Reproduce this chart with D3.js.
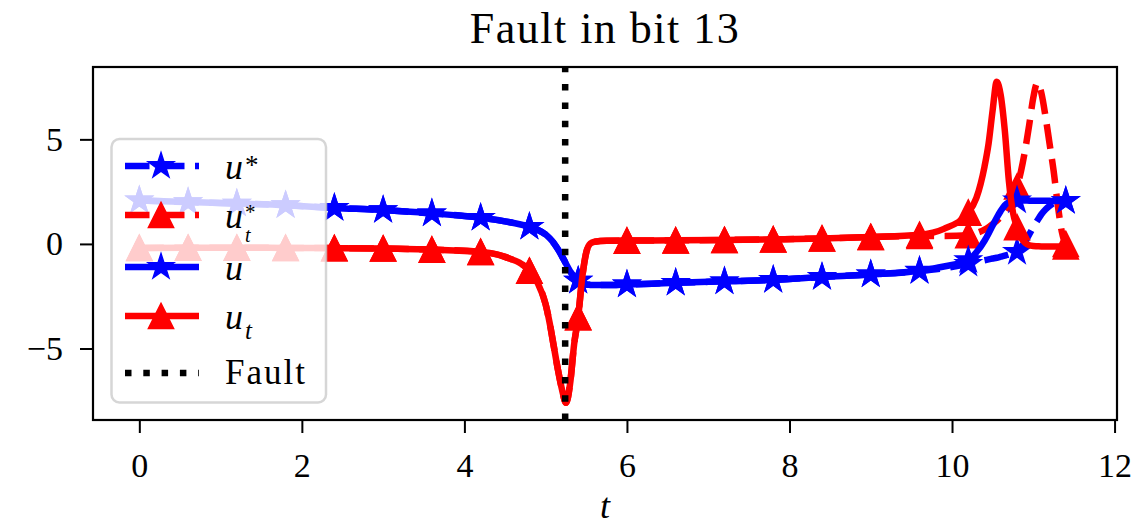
<!DOCTYPE html>
<html><head><meta charset="utf-8">
<script src="https://cdn.jsdelivr.net/npm/d3@7"></script>
<style>body{margin:0;background:#fff} svg{display:block;background:#fff}</style>
</head><body>
<svg id="chart" width="1135" height="525"></svg>
<script>
// ---- data ----
const T = [0, 0.6, 1.2, 1.8, 2.4, 3.0, 3.6, 4.2, 4.5, 4.8, 4.9, 5.0, 5.05, 5.1, 5.15, 5.2, 5.25, 5.3,
  5.35, 5.4, 5.45, 5.5, 5.55, 5.6, 5.75, 6.0, 6.6, 7.2, 7.8, 8.4, 9.0, 9.6, 9.9, 10.2,
  10.3, 10.4, 10.45, 10.5, 10.55, 10.6, 10.65, 10.7, 10.75, 10.8, 10.85, 10.9, 10.95, 11.0, 11.05, 11.1,
  11.15, 11.2, 11.25, 11.3, 11.35, 11.4, 11.45];

const uVals = [2.08, 2.00, 1.93, 1.85, 1.72, 1.62, 1.46, 1.25, 1.08, 0.82, 0.68, 0.45, 0.27, 0.04, -0.25, -0.58, -0.95, -1.30,
  -1.57, -1.76, -1.88, -1.94, -1.96, -1.97, -1.97, -1.94, -1.86, -1.79, -1.72, -1.58, -1.46, -1.28, -1.08, -0.78,
  -0.40, 0.15, 0.50, 0.88, 1.25, 1.58, 1.85, 2.00, 2.06, 2.08, 2.08, 2.08, 2.07, 2.07, 2.07, 2.06,
  2.06, 2.06, 2.05, 2.05, 2.05, 2.05, 2.04];

const uStarVals = [2.08, 2.00, 1.93, 1.85, 1.72, 1.62, 1.46, 1.25, 1.08, 0.82, 0.68, 0.45, 0.27, 0.04, -0.25, -0.58, -0.95, -1.30,
  -1.57, -1.76, -1.88, -1.94, -1.96, -1.97, -1.97, -1.94, -1.86, -1.79, -1.72, -1.58, -1.46, -1.30, -1.16, -0.95,
  -0.86, -0.78, -0.74, -0.70, -0.66, -0.61, -0.56, -0.50, -0.45, -0.38, -0.15, 0.10, 0.45, 0.80, 1.12, 1.42,
  1.65, 1.82, 1.95, 2.02, 2.05, 2.06, 2.06];

const utVals = [-0.19, -0.18, -0.18, -0.19, -0.20, -0.22, -0.27, -0.38, -0.62, -1.28, -1.85, -2.9, -3.8, -4.9, -6.0, -6.95, -7.6, -6.7,
  -4.8, -3.5, -1.6, -0.4, 0.02, 0.10, 0.15, 0.16, 0.17, 0.19, 0.22, 0.26, 0.33, 0.44, 0.72, 1.5,
  2.2, 3.7, 4.8, 6.4, 7.75, 7.1, 5.4, 3.0, 1.5, 0.8, 0.3, 0.05, -0.06, -0.10, -0.11, -0.12,
  -0.12, -0.12, -0.12, -0.12, -0.12, -0.12, -0.12];

const utStarVals = [-0.19, -0.18, -0.18, -0.19, -0.20, -0.22, -0.27, -0.38, -0.62, -1.28, -1.85, -2.9, -3.8, -4.9, -6.0, -6.95, -7.6, -6.7,
  -4.8, -3.5, -1.6, -0.4, 0.02, 0.10, 0.15, 0.16, 0.17, 0.19, 0.22, 0.26, 0.33, 0.38, 0.38, 0.42,
  0.52, 0.68, 0.80, 0.95, 1.10, 1.30, 1.55, 1.90, 2.30, 2.75, 3.5, 4.5, 5.7, 7.0, 7.7, 7.2,
  6.1, 4.8, 3.5, 1.9, 0.6, 0.0, -0.1];

const markerT = [0, 0.6, 1.2, 1.8, 2.4, 3.0, 3.6, 4.2, 4.8, 5.4, 6.0, 6.6, 7.2, 7.8, 8.4, 9.0, 9.6, 10.2, 10.8, 11.4];
const xTicks = [0, 2, 4, 6, 8, 10, 12];
const yTicks = [-5, 0, 5];
const faultT = 5.24;
const titleText = "Fault in bit 13";
const xLabel = "t";

// ---- layout ----
const L = 93, R = 1117, TOP = 67, BOT = 420;
const svg = d3.select("#chart");
const x = d3.scaleLinear().domain([-0.57, 12.03]).range([L, R]);
const y = d3.scaleLinear().domain([-8.42, 8.46]).range([BOT, TOP]);

const FONT = "'Liberation Serif', 'Times New Roman', serif";
const BLUE = "#0000ff", RED = "#ff0000";
const LW = 6.5;
const DASH = "24.5,10.5";
const DOT = "6.5,11.8";

function starPath(Rr) {
  const pts = [];
  for (let i = 0; i < 10; i++) {
    const r = i % 2 ? Rr * 0.381966 : Rr;
    const a = -Math.PI / 2 + i * Math.PI / 5;
    pts.push([r * Math.cos(a), r * Math.sin(a)]);
  }
  return "M" + pts.map(p => p[0].toFixed(2) + "," + p[1].toFixed(2)).join("L") + "Z";
}
function triPath(r) { return `M0,${-r}L${r},${r}L${-r},${r}Z`; }
const STAR = starPath(13.4), TRI = triPath(12.6);

const series = [
  { vals: uStarVals, color: BLUE, dash: DASH, marker: STAR },
  { vals: utStarVals, color: RED, dash: DASH, marker: TRI },
  { vals: uVals, color: BLUE, dash: null, marker: STAR },
  { vals: utVals, color: RED, dash: null, marker: TRI }
];

svg.append("defs").append("clipPath").attr("id", "clip")
  .append("rect").attr("x", L).attr("y", TOP).attr("width", R - L).attr("height", BOT - TOP);

const plot = svg.append("g").attr("clip-path", "url(#clip)");
const line = d3.line().x(d => x(d[0])).y(d => y(d[1])).curve(d3.curveMonotoneX);

series.forEach(s => {
  const pts = T.map((t, i) => [t, s.vals[i]]);
  const g = plot.append("g");
  g.append("path").datum(pts).attr("d", line)
    .attr("fill", "none").attr("stroke", s.color).attr("stroke-width", LW)
    .attr("stroke-linejoin", "round")
    .attr("stroke-dasharray", s.dash);
  const mpts = pts.filter(p => markerT.some(m => Math.abs(m - p[0]) < 1e-9));
  g.selectAll("path.m").data(mpts).enter().append("path").attr("class", "m")
    .attr("d", s.marker)
    .attr("transform", d => `translate(${x(d[0])},${y(d[1])})`)
    .attr("fill", s.color).attr("stroke", s.color).attr("stroke-width", 1.5);
});

// fault line
plot.append("line").attr("x1", x(faultT)).attr("x2", x(faultT)).attr("y1", BOT).attr("y2", TOP)
  .attr("stroke", "#000").attr("stroke-width", LW).attr("stroke-dasharray", DOT);

// axes
const xAxis = d3.axisBottom(x).tickValues(xTicks).tickSize(13).tickSizeOuter(0).tickPadding(20)
  .tickFormat(d3.format("d"));
const gx = svg.append("g").attr("transform", `translate(0,${BOT})`).call(xAxis);
const yAxis = d3.axisLeft(y).tickValues(yTicks).tickSize(13).tickSizeOuter(0).tickPadding(17)
  .tickFormat(d => d < 0 ? "\u2212" + Math.abs(d) : String(d));
const gy = svg.append("g").attr("transform", `translate(${L},0)`).call(yAxis);
[gx, gy].forEach(g => {
  g.select(".domain").remove();
  g.selectAll(".tick line").attr("stroke", "#000").attr("stroke-width", 2);
  g.selectAll(".tick text").attr("fill", "#000").style("font-family", FONT).style("font-size", "34px");
});

svg.append("rect").attr("x", L).attr("y", TOP).attr("width", R - L).attr("height", BOT - TOP)
  .attr("fill", "none").attr("stroke", "#000").attr("stroke-width", 2.2);

// title and x label
svg.append("text").attr("x", (L + R) / 2).attr("y", 43).attr("text-anchor", "middle")
  .style("font-family", FONT).style("font-size", "44px").style("letter-spacing", "1.5px").text(titleText);
svg.append("text").attr("x", (L + R) / 2).attr("y", 518).attr("text-anchor", "middle")
  .style("font-family", FONT).style("font-style", "italic").style("font-size", "36px").text(xLabel);

// legend
const lg = svg.append("g");
lg.append("rect").attr("x", 111.5).attr("y", 139).attr("width", 214.5).attr("height", 263.5).attr("rx", 8)
  .attr("fill", "#fff").attr("fill-opacity", 0.8).attr("stroke", "#cccccc").attr("stroke-opacity", 0.8).attr("stroke-width", 2.5);

const legendItems = [
  { y: 166, color: BLUE, dash: DASH, marker: STAR, base: "u", sup: "*", sub: null },
  { y: 215, color: RED, dash: DASH, marker: TRI, base: "u", sup: "*", sub: "t" },
  { y: 267, color: BLUE, dash: null, marker: STAR, base: "u", sup: null, sub: null },
  { y: 316, color: RED, dash: null, marker: TRI, base: "u", sup: null, sub: "t" },
  { y: 373, color: "#000", dash: DOT, marker: null, plain: "Fault" }
];
legendItems.forEach(it => {
  lg.append("line").attr("x1", 125).attr("x2", 199).attr("y1", it.y).attr("y2", it.y)
    .attr("stroke", it.color).attr("stroke-width", LW).attr("stroke-dasharray", it.dash);
  if (it.marker) {
    lg.append("path").attr("d", it.marker).attr("transform", `translate(161,${it.y})`)
      .attr("fill", it.color).attr("stroke", it.color).attr("stroke-width", 1.5);
  }
  const bl = it.y + 12.5;
  if (it.plain) {
    lg.append("text").attr("x", 225).attr("y", it.y + 10.5).style("font-family", FONT)
      .style("font-size", "35px").style("letter-spacing", "2px").text(it.plain);
    return;
  }
  const t = lg.append("text").attr("x", 225).attr("y", bl).style("font-family", FONT);
  t.append("tspan").style("font-style", "italic").style("font-size", "36px").text(it.base);
  const both = it.sup && it.sub;
  if (it.sup) {
    t.append("tspan").attr("x", 245).attr("y", both ? bl - 9 : bl - 5)
      .style("font-size", both ? "21px" : "27px").text(it.sup);
  }
  if (it.sub) {
    t.append("tspan").attr("x", 245).attr("y", both ? bl + 14 : bl + 10).style("font-style", "italic")
      .style("font-size", both ? "20px" : "25px").text(it.sub);
  }
});
</script>
</body></html>
